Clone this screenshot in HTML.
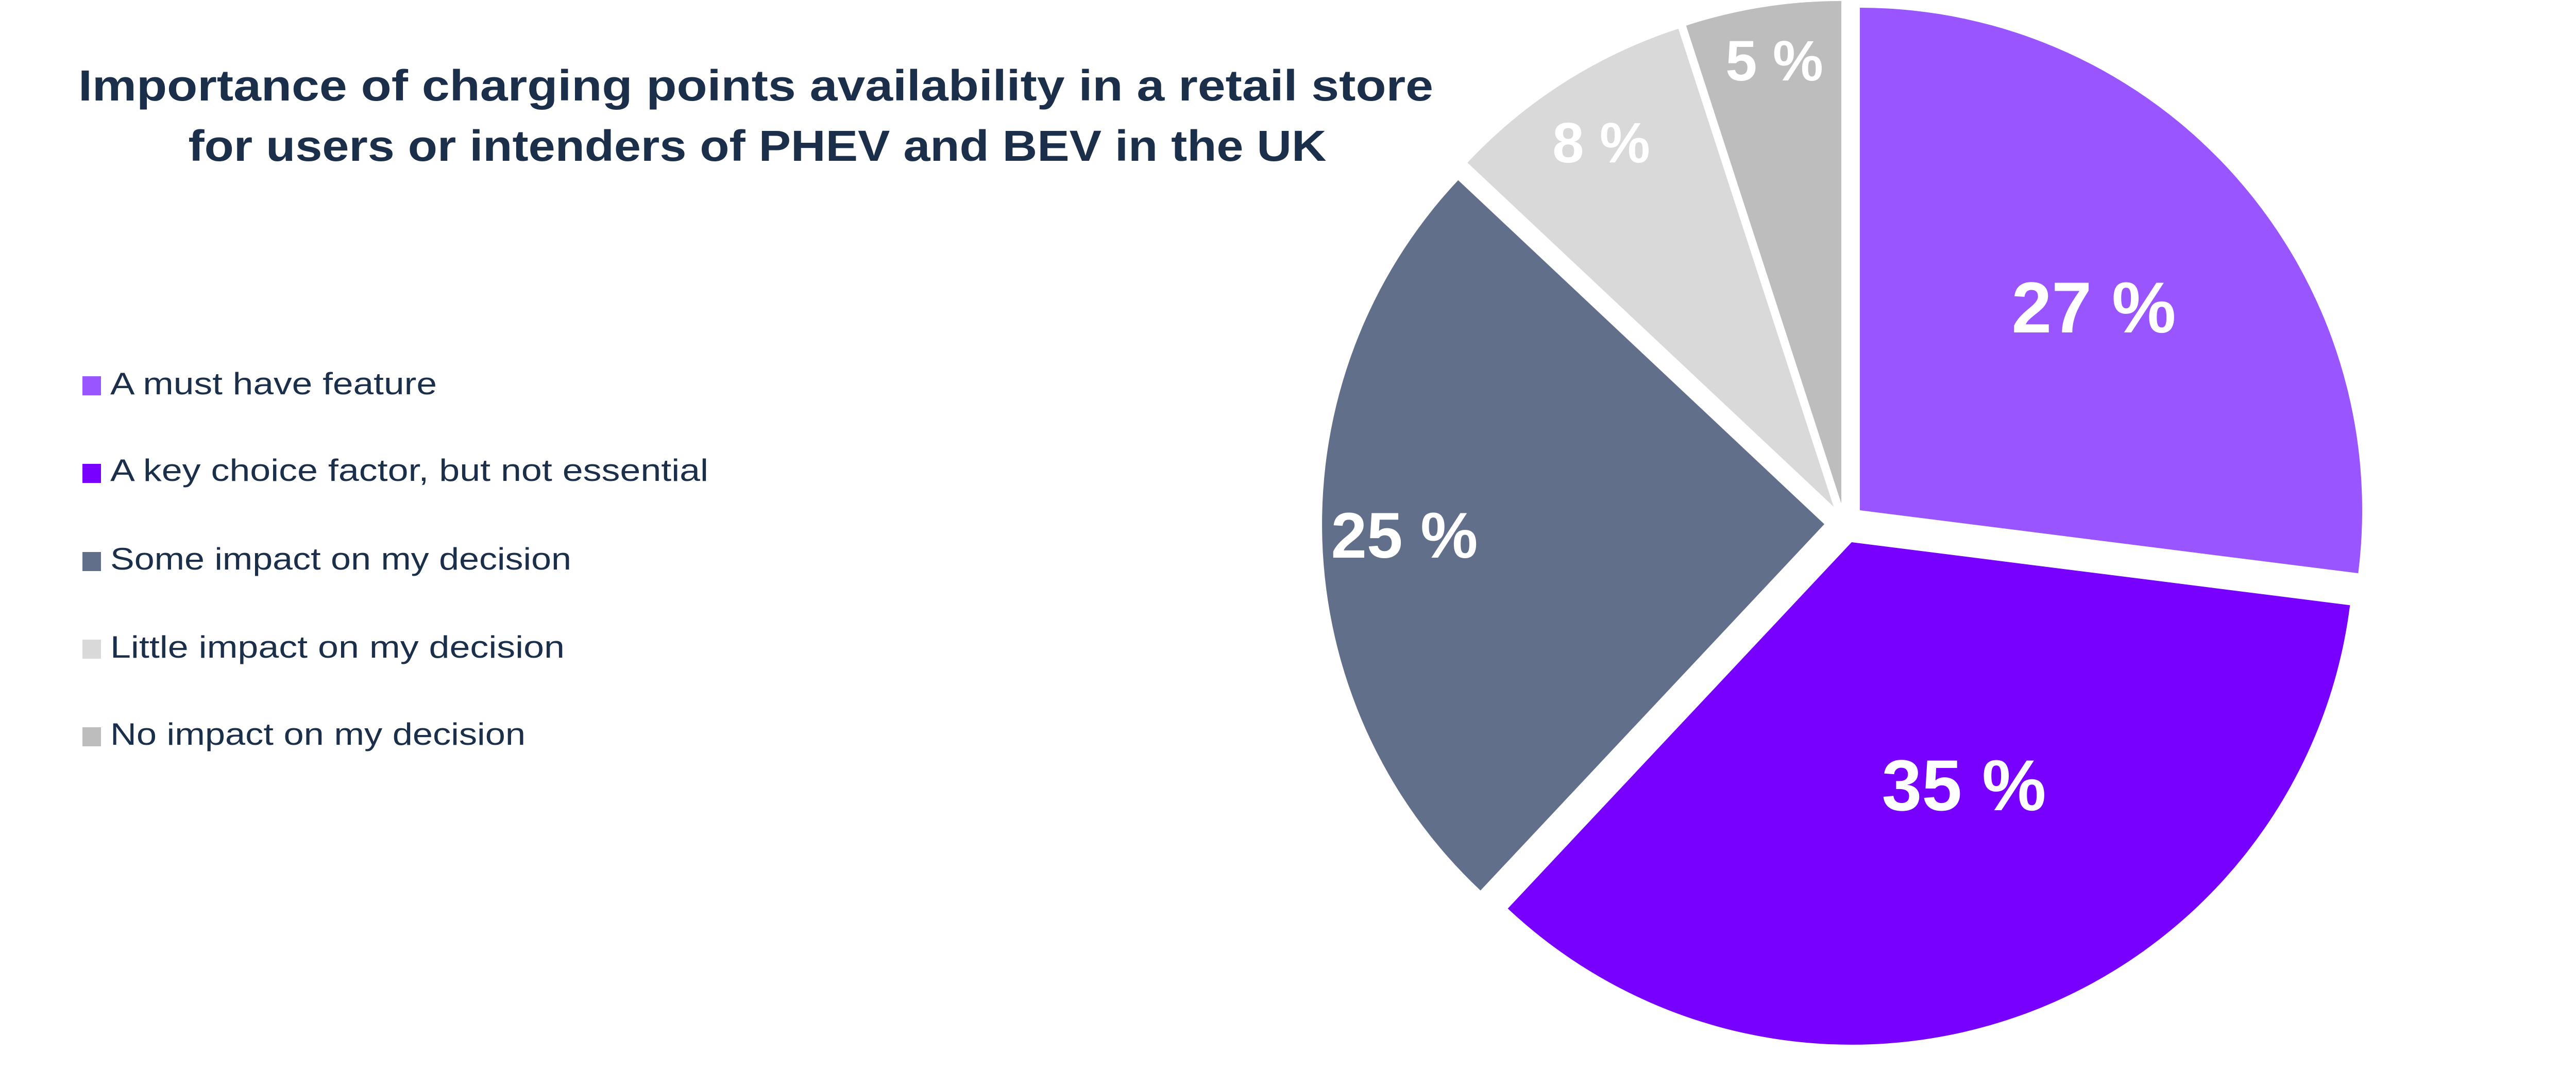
<!DOCTYPE html>
<html><head><meta charset="utf-8"><style>
html,body{margin:0;padding:0;background:#fff;}
svg{display:block;}
</style></head><body>
<svg width="5225" height="2076" viewBox="0 0 5225 2076" xmlns="http://www.w3.org/2000/svg">
<rect width="5225" height="2076" fill="#fff"/>
<g font-family="'Liberation Sans', sans-serif" fill="#1B2F4A" font-weight="bold">
<text x="1467" y="195" font-size="84" text-anchor="middle" textLength="2630" lengthAdjust="spacingAndGlyphs">Importance of charging points availability in a retail store</text>
<text x="1470" y="312" font-size="84" text-anchor="middle" textLength="2209" lengthAdjust="spacingAndGlyphs">for users or intenders of PHEV and BEV in the UK</text>
</g>
<g font-family="'Liberation Sans', sans-serif" fill="#1B2F4A" font-size="60">
<rect x="160" y="730" width="36" height="37" fill="#9955FF"/>
<text x="214" y="765" textLength="634" lengthAdjust="spacingAndGlyphs">A must have feature</text>
<rect x="160" y="900" width="36" height="37" fill="#7700FF"/>
<text x="214" y="933" textLength="1161" lengthAdjust="spacingAndGlyphs">A key choice factor, but not essential</text>
<rect x="160" y="1071" width="36" height="37" fill="#626F8A"/>
<text x="214" y="1105" textLength="895" lengthAdjust="spacingAndGlyphs">Some impact on my decision</text>
<rect x="160" y="1241" width="36" height="37" fill="#D9D9D9"/>
<text x="214" y="1276" textLength="882" lengthAdjust="spacingAndGlyphs">Little impact on my decision</text>
<rect x="160" y="1411" width="36" height="37" fill="#BDBDBD"/>
<text x="214" y="1445" textLength="806" lengthAdjust="spacingAndGlyphs">No impact on my decision</text>
</g>
<path d="M3610,990 L3610,15 A975,975 0 0 1 4577.3,1112.2 Z" fill="#9955FF"/>
<path d="M3594,1052 L4561.3,1174.2 A975,975 0 0 1 2926.6,1762.7 Z" fill="#7700FF"/>
<path d="M3541,1017 L2873.6,1727.7 A975,975 0 0 1 2830.3,349.6 Z" fill="#626F8A"/>
<path d="M3559,983 L2848.3,315.6 A975,975 0 0 1 3257.7,55.7 Z" fill="#D9D9D9"/>
<path d="M3574,977 L3272.7,49.7 A975,975 0 0 1 3574,2 Z" fill="#BDBDBD"/>
<g font-family="'Liberation Sans', sans-serif" fill="#fff" font-weight="bold" text-anchor="middle">
<text x="4064" y="645" font-size="140">27 %</text>
<text x="3812" y="1572" font-size="140">35 %</text>
<text x="2726" y="1082" font-size="125">25 %</text>
<text x="3108" y="315" font-size="110">8 %</text>
<text x="3444" y="156" font-size="110">5 %</text>
</g>
</svg>
</body></html>
